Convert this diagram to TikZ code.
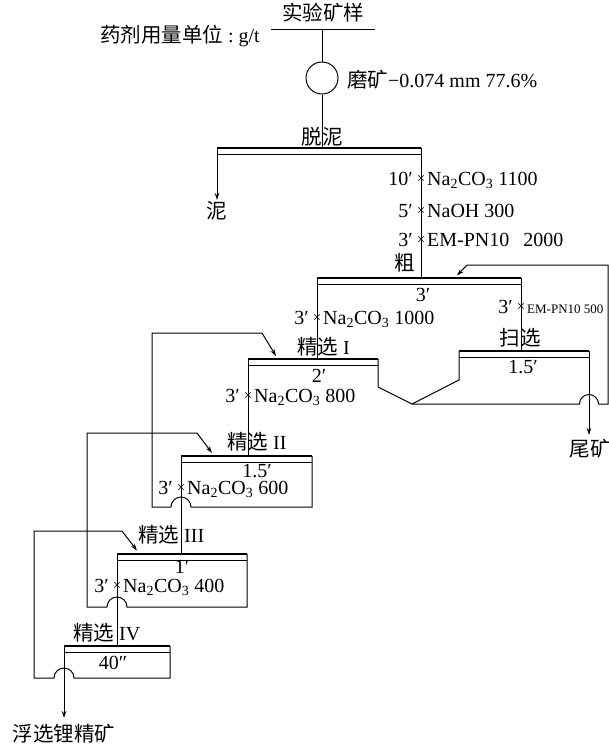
\documentclass[tikz,border=0pt]{standalone}
\usepackage{fontspec}
\setmainfont{Liberation Serif}
\newfontfamily\cjkfam{Noto Sans CJK SC}
\newcommand\cj[1]{{\fontsize{20.5}{22}\selectfont\cjkfam #1}}
\usetikzlibrary{arrows.meta}
\tikzset{
  ln/.style={line width=1pt},
  bar/.style={line width=2.4pt},
  txt/.style={inner sep=0pt, font=\fontsize{20}{22}\selectfont},
  tim/.style={inner sep=0pt, font=\fontsize{15}{15}\selectfont},
  arr/.style={-{Stealth[length=7pt,width=4.5pt]}},
}
\newcommand\cellbar[3]{%
  \draw[bar] (#1,#3) -- (#2,#3);
  \draw[ln] (#1,#3+6.5) -- (#2,#3+6.5);}
\newcommand\dose[5]{%
  \node[txt,anchor=base east] (#1p) at (#2-8,#3+7) {#4};
  \node[tim] (#1x) at (#2,#3+1) {×};
  \node[txt,anchor=base west] (#1s) at (#2+6,#3+7) {#5};}
\begin{document}
\begin{tikzpicture}[x=1pt,y=-1pt]
\useasboundingbox (0,0) rectangle (609,745);
% feed
\coordinate (feedL) at (271,29);
\coordinate (feedR) at (375,29);
\coordinate (feedM) at (322,29);
\draw[ln] (feedL) -- (feedR);
\node[txt,anchor=base] (ore) at (323,20) {\cj{实验矿样}};
\node[txt,anchor=base east] (unit) at (260,42) {\cj{药剂用量单位}\hspace{5pt}:\hspace{5pt}g/t};
\node[circle,draw,ln,minimum size=32pt,inner sep=0pt] (mill) at (322,78) {};
\node[txt,anchor=base west] (grind) at (347,87) {\cj{磨矿}−0.074 mm 77.6\%};
\draw[ln] (feedM) -- (mill.north);
\draw[ln] (mill.south) -- (322,148);
% desliming
\cellbar{217}{421}{148}
\node[txt,anchor=base] (deslab) at (322,144) {\cj{脱泥}};
\draw[ln,arr] (217,148) -- (217,200);
\node[txt,anchor=base] (mud) at (217,218) {\cj{泥}};
\draw[ln] (421,148) -- (421,278);
\dose{da}{421}{178}{10′}{Na\textsubscript{2}CO\textsubscript{3} 1100}
\dose{db}{421}{210}{5′}{NaOH 300}
\dose{dc}{421}{239}{3′}{EM-PN10\hspace{14pt}2000}
\node[txt,anchor=base] (rlab) at (405,270) {\cj{粗}};
% rougher
\cellbar{317}{521}{278}
\node[txt,anchor=base] (rt) at (423,301) {3′};
\draw[ln] (317,278) -- (317,359);
\draw[ln] (521,278) -- (521,351);
\dose{dd}{317}{317}{3′}{Na\textsubscript{2}CO\textsubscript{3} 1000}
\dose{de}{521}{306}{3′}{\fontsize{13}{15}\selectfont EM-PN10 500}
% cleaner I
\cellbar{248}{378}{359}
\node[txt,anchor=base west] (c1lab) at (297,354) {\cj{精选} I};
\node[txt,anchor=base] (c1t) at (319,382) {2′};
\draw[ln] (248,359) -- (248,456);
\draw[ln] (378,359) -- (378,387) -- (412,404);
\dose{df}{248}{395}{3′}{Na\textsubscript{2}CO\textsubscript{3} 800}
% scavenger
\cellbar{459}{589}{351}
\node[txt,anchor=base] (slab) at (520,345) {\cj{扫选}};
\node[txt,anchor=base] (st) at (523,373) {1.5′};
\draw[ln] (459,351) -- (459,380) -- (412,404);
\draw[ln,arr] (589,351) -- (589,435);
\node[txt,anchor=base] (tail) at (590,456) {\cj{尾矿}};
\draw[ln,arr] (412,404) -- (579.5,404) arc[start angle=180,end angle=360,radius=9.5]
  -- (608,404) -- (608,265) -- (467,265) -- (457,275.5);
% cleaner II
\cellbar{181}{312}{456}
\node[txt,anchor=base west] (c2lab) at (227,449) {\cj{精选} II};
\node[txt,anchor=base] (c2t) at (257,477) {1.5′};
\draw[ln] (181,456) -- (181,554);
\draw[ln,arr] (312,456) -- (312,507) -- (191,507) arc[start angle=0,end angle=-180,radius=10]
  -- (152,507) -- (152,333) -- (262,333) -- (276,356);
\dose{dg}{181}{487}{3′}{Na\textsubscript{2}CO\textsubscript{3} 600}
% cleaner III
\cellbar{117}{247}{554}
\node[txt,anchor=base west] (c3lab) at (138,542) {\cj{精选} III};
\node[txt,anchor=base] (c3t) at (182,573) {1′};
\draw[ln] (117,554) -- (117,646);
\draw[ln,arr] (247,554) -- (247,607) -- (127,607) arc[start angle=0,end angle=-180,radius=10]
  -- (87,607) -- (87,433) -- (197,433) -- (212,453);
\dose{dh}{117}{585}{3′}{Na\textsubscript{2}CO\textsubscript{3} 400}
% cleaner IV
\cellbar{64}{170}{646}
\node[txt,anchor=base west] (c4lab) at (73,640) {\cj{精选} IV};
\node[txt,anchor=base] (c4t) at (113,669) {40″};
\draw[ln,arr] (64,646) -- (64,718);
\node[txt,anchor=base] (conc) at (64,741) {\cj{浮选锂精矿}};
\draw[ln,arr] (170,646) -- (170,678) -- (74,678) arc[start angle=0,end angle=-180,radius=10]
  -- (34,678) -- (34,531) -- (122,531) -- (137,550.5);
\end{tikzpicture}
\end{document}
